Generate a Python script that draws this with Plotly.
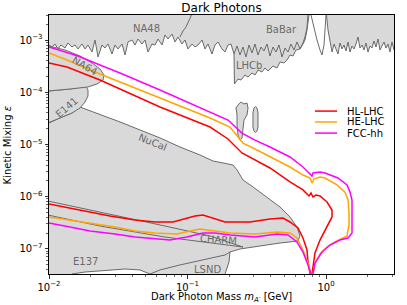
import math
import plotly.graph_objects as go

# ---------------- sensitivity contours (upper branch -> cusp -> lower branch) -------------
hl_mass = [0.0100, 0.01349, 0.02334, 0.03256, 0.0633, 0.1454, 0.1961, 0.2474, 0.3071, 0.3942,
           0.5495, 0.6822, 0.7413, 0.7538, 0.7793, 0.8056, 0.8468, 0.9051, 1.0167, 1.105,
           1.105, 1.0167, 0.9051, 0.8325, 0.8056, 0.7924, 0.786,
           0.7664, 0.7413, 0.7291, 0.6822, 0.6278, 0.5495, 0.4892, 0.3942, 0.2826, 0.1866,
           0.1503, 0.1294, 0.1133, 0.0959, 0.07855, 0.05825, 0.04178, 0.02756, 0.01977, 0.01418, 0.0100]
hl_eps = [3.63e-4, 3.04e-4, 1.71e-4, 1.15e-4, 5.20e-5, 2.15e-5, 1.27e-5, 6.84e-6, 5.03e-6, 3.53e-6,
          1.91e-6, 1.34e-6, 1.07e-6, 1.03e-6, 1.17e-6, 9.82e-7, 1.07e-6, 1.03e-6, 7.88e-7, 5.54e-7,
          4.07e-7, 2.62e-7, 1.47e-7, 8.31e-8, 4.90e-8, 3.29e-8, 1.5e-8,
          3.44e-8, 5.59e-8, 9.48e-8, 1.61e-7, 2.50e-7, 3.26e-7, 3.89e-7, 3.72e-7, 3.26e-7, 3.26e-7,
          3.89e-7, 4.44e-7, 4.25e-7, 3.72e-7, 3.26e-7, 3.26e-7, 3.56e-7, 4.25e-7, 5.07e-7, 6.05e-7, 7.22e-7]

he_mass = [0.0100, 0.01349, 0.02334, 0.03256, 0.0633, 0.1454, 0.2027, 0.2516, 0.3071, 0.3942,
           0.5495, 0.6822, 0.7664, 0.7924, 0.819, 0.9051, 0.9835, 1.2007, 1.3715, 1.4418,
           1.4655, 1.4655, 1.418, 1.3267, 1.1233, 1.0167, 0.9051, 0.8325, 0.8056, 0.786,
           0.7793, 0.7413, 0.6822, 0.6174, 0.5495, 0.4428, 0.3071, 0.2027, 0.158, 0.1231,
           0.1042, 0.0840, 0.05825, 0.04178, 0.02996, 0.01977, 0.01418, 0.0100]
he_eps = [5.64e-4, 4.14e-4, 2.23e-4, 1.57e-4, 7.74e-5, 3.21e-5, 2.15e-5, 1.06e-5, 8.16e-6, 5.74e-6,
          3.69e-6, 2.59e-6, 2.27e-6, 1.82e-6, 2.17e-6, 2.37e-6, 2.27e-6, 1.67e-6, 1.22e-6, 8.61e-7,
          5.07e-7, 2.86e-7, 1.76e-7, 1.61e-7, 1.29e-7, 1.08e-7, 7.95e-8, 5.12e-8, 3.29e-8, 1.5e-8,
          3.29e-8, 5.35e-8, 9.48e-8, 1.61e-7, 2.01e-7, 2.10e-7, 1.92e-7, 2.01e-7, 2.19e-7, 2.39e-7,
          2.19e-7, 1.92e-7, 2.01e-7, 2.19e-7, 2.62e-7, 3.12e-7, 3.56e-7, 4.07e-7]

fcc_mass = [0.0100, 0.0162, 0.02334, 0.03256, 0.0633, 0.1454, 0.1961, 0.2474, 0.3071, 0.3942,
            0.5495, 0.6822, 0.7413, 0.7924, 0.8056, 0.9051, 0.9835, 1.2208, 1.418, 1.490,
            1.541, 1.541, 1.4418, 1.2619, 1.0688, 0.9357, 0.8325, 0.8056, 0.786,
            0.7793, 0.7413, 0.6822, 0.6174, 0.5316, 0.4428, 0.3071, 0.2027, 0.158, 0.1294,
            0.0992, 0.07473, 0.05825, 0.04178, 0.02996, 0.01977, 0.01418, 0.0100]
fcc_eps = [7.34e-4, 4.94e-4, 3.32e-4, 2.33e-4, 1.10e-4, 4.18e-5, 2.93e-5, 1.65e-5, 1.21e-5, 8.91e-6,
           5.74e-6, 3.69e-6, 2.96e-6, 2.48e-6, 2.83e-6, 2.96e-6, 2.83e-6, 2.27e-6, 1.67e-6, 1.22e-6,
           8.61e-7, 2.01e-7, 1.61e-7, 1.47e-7, 1.18e-7, 8.68e-8, 5.35e-8, 3.29e-8, 1.5e-8,
           3.29e-8, 4.90e-8, 8.68e-8, 1.35e-7, 1.84e-7, 1.92e-7, 1.68e-7, 1.84e-7, 2.01e-7, 2.01e-7,
           1.68e-7, 1.47e-7, 1.54e-7, 1.68e-7, 1.92e-7, 2.19e-7, 2.62e-7, 3.12e-7]

# ---------------- existing limits ----------------
# NA48 / BaBar common lower edge (left part)
top_mass = [0.0098, 0.0100, 0.01051, 0.01105, 0.01161, 0.01221, 0.01305, 0.01371, 0.01466, 0.01541, 0.01620,
            0.01731, 0.01820, 0.01912, 0.02044, 0.02149, 0.02259, 0.02413, 0.02537, 0.02667, 0.02850,
            0.02996, 0.03150, 0.03367, 0.03538, 0.03720, 0.03975, 0.04178, 0.04392, 0.04693, 0.04933,
            0.05186, 0.05542, 0.05826, 0.06124, 0.06545, 0.06880, 0.07232, 0.07729, 0.08124, 0.08540,
            0.09127, 0.09593, 0.1008, 0.1078, 0.1133, 0.1191, 0.1273, 0.1338, 0.1406, 0.1503,
            0.1580, 0.1661, 0.1775, 0.1866, 0.1961, 0.2061, 0.2167]
top_eps = [8.02e-4, 8.02e-4, 7.34e-4, 8.38e-4, 6.73e-4, 8.02e-4, 7.03e-4, 8.76e-4, 7.34e-4, 8.02e-4, 6.73e-4,
           8.38e-4, 6.73e-4, 8.02e-4, 5.89e-4, 1.0e-3, 4.72e-4, 8.02e-4, 7.03e-4, 8.38e-4, 5.39e-4,
           8.02e-4, 6.73e-4, 8.38e-4, 5.16e-4, 9.16e-4, 1.0e-3, 8.02e-4, 1.045e-3, 8.38e-4, 1.0e-3,
           5.89e-4, 8.38e-4, 8.02e-4, 1.045e-3, 8.02e-4, 1.25e-3, 1.045e-3, 1.30e-3, 9.16e-4, 1.14e-3,
           8.38e-4, 1.0e-3, 6.73e-4, 8.38e-4, 7.34e-4, 8.02e-4, 1.0e-3, 6.73e-4, 8.38e-4, 5.39e-4,
           8.02e-4, 9.16e-4, 6.73e-4, 5.89e-4, 8.02e-4, 8.38e-4, 5.39e-4]
# LHCb lower edge
lhcb_mass = [0.2184, 0.2316, 0.2433, 0.2601, 0.2734, 0.2921, 0.3071, 0.3228, 0.3450, 0.3626, 0.3813,
             0.4143, 0.4428, 0.4654, 0.4974, 0.5228, 0.5495, 0.5777, 0.6072, 0.6490, 0.6822, 0.7052,
             0.7291, 0.7413, 0.7538, 0.7538]
lhcb_eps = [1.44e-4, 1.79e-4, 1.71e-4, 2.14e-4, 1.95e-4, 2.33e-4, 2.14e-4, 2.66e-4, 2.44e-4, 2.91e-4, 2.55e-4,
            3.18e-4, 2.91e-4, 3.79e-4, 3.63e-4, 4.14e-4, 5.16e-4, 4.94e-4, 6.44e-4, 6.73e-4, 8.38e-4, 1.0e-3,
            1.56e-3, 2.21e-3, 3.01e-3, 5e-3]
# BaBar line running inside the LHCb area
babar_mass = [0.2167, 0.2278, 0.2393, 0.2516, 0.2644, 0.2780, 0.2921, 0.3071, 0.3228, 0.3393, 0.3566,
              0.3750, 0.3942, 0.4143, 0.4355, 0.4577, 0.4811, 0.5057, 0.5316, 0.5588, 0.5873, 0.6174,
              0.6490, 0.6822, 0.7052, 0.7291, 0.7413]
babar_eps = [5.39e-4, 7.67e-4, 5.16e-4, 7.34e-4, 4.72e-4, 8.02e-4, 5.64e-4, 8.38e-4, 5.16e-4, 7.34e-4, 6.16e-4,
             8.38e-4, 4.94e-4, 7.34e-4, 5.89e-4, 8.02e-4, 4.72e-4, 7.03e-4, 5.89e-4, 8.38e-4, 6.44e-4, 9.16e-4,
             6.73e-4, 8.76e-4, 1.14e-3, 1.70e-3, 3.01e-3]
# BaBar right of the rho/omega gap
babar_r_mass = [1.0083, 1.0083, 1.0337, 1.0688, 1.1050, 1.1423, 1.181, 1.2208, 1.2619, 1.3046, 1.349, 1.3945,
                1.4418, 1.490, 1.541, 1.5928, 1.6468, 1.7022, 1.760, 1.8195, 1.881, 1.9446, 2.0101,
                2.078, 2.148, 2.221, 2.296, 2.374, 2.454, 2.537, 2.623, 2.712, 2.804, 2.898, 2.996,
                3.097, 3.202, 3.202]
babar_r_eps = [5e-3, 3.01e-3, 1.56e-3, 9.16e-4, 5.89e-4, 8.38e-4, 6.44e-4, 5.39e-4, 8.76e-4, 6.73e-4, 8.02e-4,
               6.16e-4, 9.16e-4, 5.89e-4, 7.67e-4, 6.73e-4, 8.38e-4, 1.14e-3, 7.03e-4, 8.02e-4, 6.44e-4,
               8.76e-4, 5.89e-4, 7.67e-4, 7.03e-4, 9.57e-4, 7.34e-4, 1.045e-3, 6.44e-4, 7.67e-4, 9.16e-4,
               7.03e-4, 8.38e-4, 5.89e-4, 9.16e-4, 6.44e-4, 7.67e-4, 5e-3]
# LHCb dip inside the gap
vdip_mass = [0.7793, 0.819, 0.861, 0.9051, 0.9357, 0.9673, 0.9835, 1.0]
vdip_eps = [3.01e-3, 1.70e-3, 1.0e-3, 6.44e-4, 5.16e-4, 8.02e-4, 1.56e-3, 3.01e-3]
# NA48 edge
na48_mass = [0.0883, 0.0928, 0.0975, 0.1008, 0.1042, 0.1077]
na48_eps = [1.14e-3, 1.49e-3, 1.77e-3, 2.21e-3, 2.52e-3, 3.15e-3]

na64_mass = [0.0098, 0.0100, 0.01305, 0.01674, 0.02044, 0.02334, 0.02495, 0.02454, 0.02221, 0.01912, 0.01418, 0.0100, 0.0098]
na64_eps = [7.67e-4, 7.67e-4, 6.44e-4, 4.94e-4, 3.63e-4, 2.78e-4, 2.14e-4, 1.71e-4, 1.44e-4, 1.26e-4, 1.15e-4, 1.054e-4, 1.054e-4]

e141_mass = [0.0098, 0.0100, 0.01418, 0.01849, 0.01912, 0.01912, 0.0182, 0.01674, 0.01466, 0.0120, 0.0100, 0.0098]
e141_eps = [1.054e-4, 1.054e-4, 1.15e-4, 1.31e-4, 1.10e-4, 8.45e-5, 6.49e-5, 4.98e-5, 4.00e-5, 3.21e-5, 2.57e-5, 2.57e-5]

# NuCal + CHARM + E137 + LSND outer envelope
beam_mass = [0.0098, 0.0100, 0.0120, 0.01466, 0.01674, 0.03256, 0.0633, 0.0883, 0.1231, 0.1528, 0.1805, 0.2131,
             0.2278, 0.2516, 0.2970, 0.3750, 0.4654, 0.5495, 0.6174, 0.6490, 0.6278, 0.4654, 0.3337,
             0.2393, 0.2027, 0.1994, 0.1929, 0.1866, 0.1866, 0.0098]
beam_eps = [2.57e-5, 2.57e-5, 3.21e-5, 4.00e-5, 5.20e-5, 2.69e-5, 1.33e-5, 8.91e-6, 6.26e-6, 4.81e-6, 4.41e-6, 4.03e-6,
            3.24e-6, 2.08e-6, 1.53e-6, 9.82e-7, 6.32e-7, 4.07e-7, 2.62e-7, 1.76e-7, 1.41e-7, 1.29e-7, 1.13e-7,
            9.91e-8, 8.68e-8, 5.59e-8, 4.29e-8, 3.29e-8, 2.0e-8, 2.0e-8]
charm_top_mass = [0.0098, 0.02334, 0.06878, 0.1454, 0.2516]
charm_top_eps = [8.24e-7, 5.07e-7, 2.73e-7, 1.76e-7, 1.08e-7]
charm_bot_mass = [0.0098, 0.02334, 0.06878, 0.1454, 0.2516]
charm_bot_eps = [4.44e-7, 2.73e-7, 1.68e-7, 1.29e-7, 1.08e-7]
lsnd_mass = [0.04933, 0.0633, 0.0883, 0.1454, 0.1866, 0.2027]
lsnd_eps = [3.0e-8, 3.93e-8, 4.90e-8, 6.67e-8, 7.61e-8, 8.68e-8]
gap_mass = [0.0140, 0.01466, 0.0182, 0.02334, 0.03538, 0.0454, 0.0536, 0.0560]
gap_eps = [2.5e-8, 3.29e-8, 3.59e-8, 3.76e-8, 4.10e-8, 3.93e-8, 3.29e-8, 2.5e-8]

blob1_mass = [0.2316, 0.2433, 0.2558, 0.2689, 0.2734, 0.2689, 0.2558, 0.2516, 0.2474, 0.2393, 0.2316, 0.2278, 0.2278, 0.2240, 0.2316]
blob1_eps = [5.69e-5, 6.49e-5, 5.94e-5, 6.21e-5, 4.98e-5, 3.66e-5, 2.93e-5, 2.06e-5, 1.33e-5, 1.21e-5, 1.51e-5, 2.35e-5, 3.66e-5, 4.98e-5, 5.69e-5]
blob2_mass = [0.3097, 0.3175, 0.3228, 0.3228, 0.3228, 0.3175, 0.3097, 0.3020, 0.2970, 0.2970, 0.2970, 0.3020, 0.3097]
blob2_eps = [5.32e-5, 4.98e-5, 4.00e-5, 2.93e-5, 2.15e-5, 1.81e-5, 1.69e-5, 1.81e-5, 2.15e-5, 2.93e-5, 4.00e-5, 4.98e-5, 5.32e-5]

labels = ["NA48", "BaBar", "LHCb", "NA64", "E141", "NuCal", "CHARM", "LSND", "E137"]
label_mass = [0.0502, 0.4811, 0.2780, 0.0179, 0.01338, 0.0568, 0.1661, 0.1395, 0.01834]
label_eps = [1.63e-3, 1.56e-3, 3.18e-4, 3.18e-4, 5.09e-5, 1.11e-5, 1.54e-7, 3.93e-8, 5.83e-8]
label_angle = [0, 0, 0, 30, -40, 22, 4, 0, 0]

series_names = ["HL-LHC", "HE-LHC", "FCC-hh"]
series_colors = ["#ff0000", "#ffa500", "#ff00ff"]

FILL = "#d9d9d9"
EDGE = "#6a6a6a"
FONT = "DejaVu Sans"

fig = go.Figure()

def region(mx, ey, fill=FILL, w=1.0):
    fig.add_trace(go.Scatter(x=mx, y=ey, mode="lines", fill="toself", fillcolor=fill,
                             line=dict(color=EDGE, width=w), hoverinfo="skip", showlegend=False))

def edge(mx, ey, w=1.0):
    fig.add_trace(go.Scatter(x=mx, y=ey, mode="lines", line=dict(color=EDGE, width=w),
                             hoverinfo="skip", showlegend=False))

# top exclusion (NA48 + BaBar + LHCb)
region(top_mass + lhcb_mass + [0.0098], top_eps + lhcb_eps + [5e-3])
edge(babar_mass, babar_eps)
region(babar_r_mass, babar_r_eps)
edge(vdip_mass, vdip_eps)
edge(na48_mass, na48_eps)
# beam dumps
region(beam_mass, beam_eps)
region(gap_mass, gap_eps, fill="white")
edge(charm_top_mass, charm_top_eps)
edge(charm_bot_mass, charm_bot_eps)
edge(lsnd_mass, lsnd_eps)
region(e141_mass, e141_eps)
region(na64_mass, na64_eps)
region(blob1_mass, blob1_eps)
region(blob2_mass, blob2_eps)

for name, col, mx, ey in zip(series_names, series_colors,
                             [hl_mass, he_mass, fcc_mass], [hl_eps, he_eps, fcc_eps]):
    fig.add_trace(go.Scatter(x=mx, y=ey, mode="lines", name=name,
                             line=dict(color=col, width=1.5), showlegend=False))

for t, m, e, a in zip(labels, label_mass, label_eps, label_angle):
    fig.add_annotation(x=math.log10(m), y=math.log10(e), xref="x", yref="y", text=t,
                       showarrow=False, textangle=a,
                       font=dict(family=FONT, size=10, color="#6a6a6a"))

# legend drawn by hand (matplotlib-like compact spacing)
leg_y = [0.629, 0.587, 0.544]
for name, col, ly in zip(series_names, series_colors, leg_y):
    fig.add_shape(type="line", xref="paper", yref="paper", x0=0.771, x1=0.835, y0=ly, y1=ly,
                  line=dict(color=col, width=1.5))
    fig.add_annotation(xref="paper", yref="paper", x=0.858, y=ly, text=name, showarrow=False,
                       xanchor="left", yanchor="middle", font=dict(family=FONT, size=10, color="black"))

# axis titles as annotations (precise placement)
fig.add_annotation(xref="paper", yref="paper", x=0.5, y=-0.089, yanchor="middle", xanchor="center",
                   text="Dark Photon Mass <i>m</i><sub><i>A′</i></sub> [GeV]", showarrow=False,
                   font=dict(family=FONT, size=10, color="black"))
fig.add_annotation(xref="paper", yref="paper", x=-0.119, y=0.5, xanchor="center", yanchor="middle",
                   text="Kinetic Mixing <i>ε</i>", textangle=-90, showarrow=False,
                   font=dict(family=FONT, size=10, color="black"))

xt = [0.01, 0.1, 1.0]
xt_text = ["10<sup>−2</sup>", "10<sup>−1</sup>", "10<sup>0</sup>"]
yt = [1e-7, 1e-6, 1e-5, 1e-4, 1e-3]
yt_text = ["10<sup>−7</sup>", "10<sup>−6</sup>", "10<sup>−5</sup>", "10<sup>−4</sup>", "10<sup>−3</sup>"]
x_minor = [k * 10.0 ** d for d in (-2, -1, 0) for k in range(2, 10)]
y_minor = [k * 10.0 ** d for d in (-8, -7, -6, -5, -4, -3) for k in range(2, 10)]

axis_common = dict(type="log", showgrid=False, zeroline=False, showline=True, mirror=True,
                   linecolor="black", linewidth=1, ticks="outside", ticklen=3.5, tickwidth=0.8,
                   tickcolor="black", tickfont=dict(family=FONT, size=10, color="black"),
                   automargin=False)

fig.update_xaxes(range=[-2, 0.491], tickmode="array", tickvals=xt, ticktext=xt_text,
                 minor=dict(tickmode="array", tickvals=x_minor, ticks="outside", ticklen=2,
                            tickwidth=0.6, tickcolor="black", showgrid=False),
                 **axis_common)
fig.update_yaxes(range=[-7.483, -2.521], tickmode="array", tickvals=yt, ticktext=yt_text,
                 minor=dict(tickmode="array", tickvals=y_minor, ticks="outside", ticklen=2,
                            tickwidth=0.6, tickcolor="black", showgrid=False),
                 **axis_common)

fig.update_layout(width=407, height=305, margin=dict(l=49, r=13, t=15, b=31),
                  paper_bgcolor="white", plot_bgcolor="white", showlegend=False,
                  font=dict(family=FONT, size=10, color="black"),
                  title=dict(text="Dark Photons", x=0.5, xref="paper", xanchor="center",
                             y=1 - 8 / 305, yref="container", yanchor="middle",
                             font=dict(family=FONT, size=12, color="black")))

fig.write_html("out.html", config={"displayModeBar": False, "staticPlot": True},
               post_script="document.body.style.margin='0px';document.body.style.overflow='hidden';")
